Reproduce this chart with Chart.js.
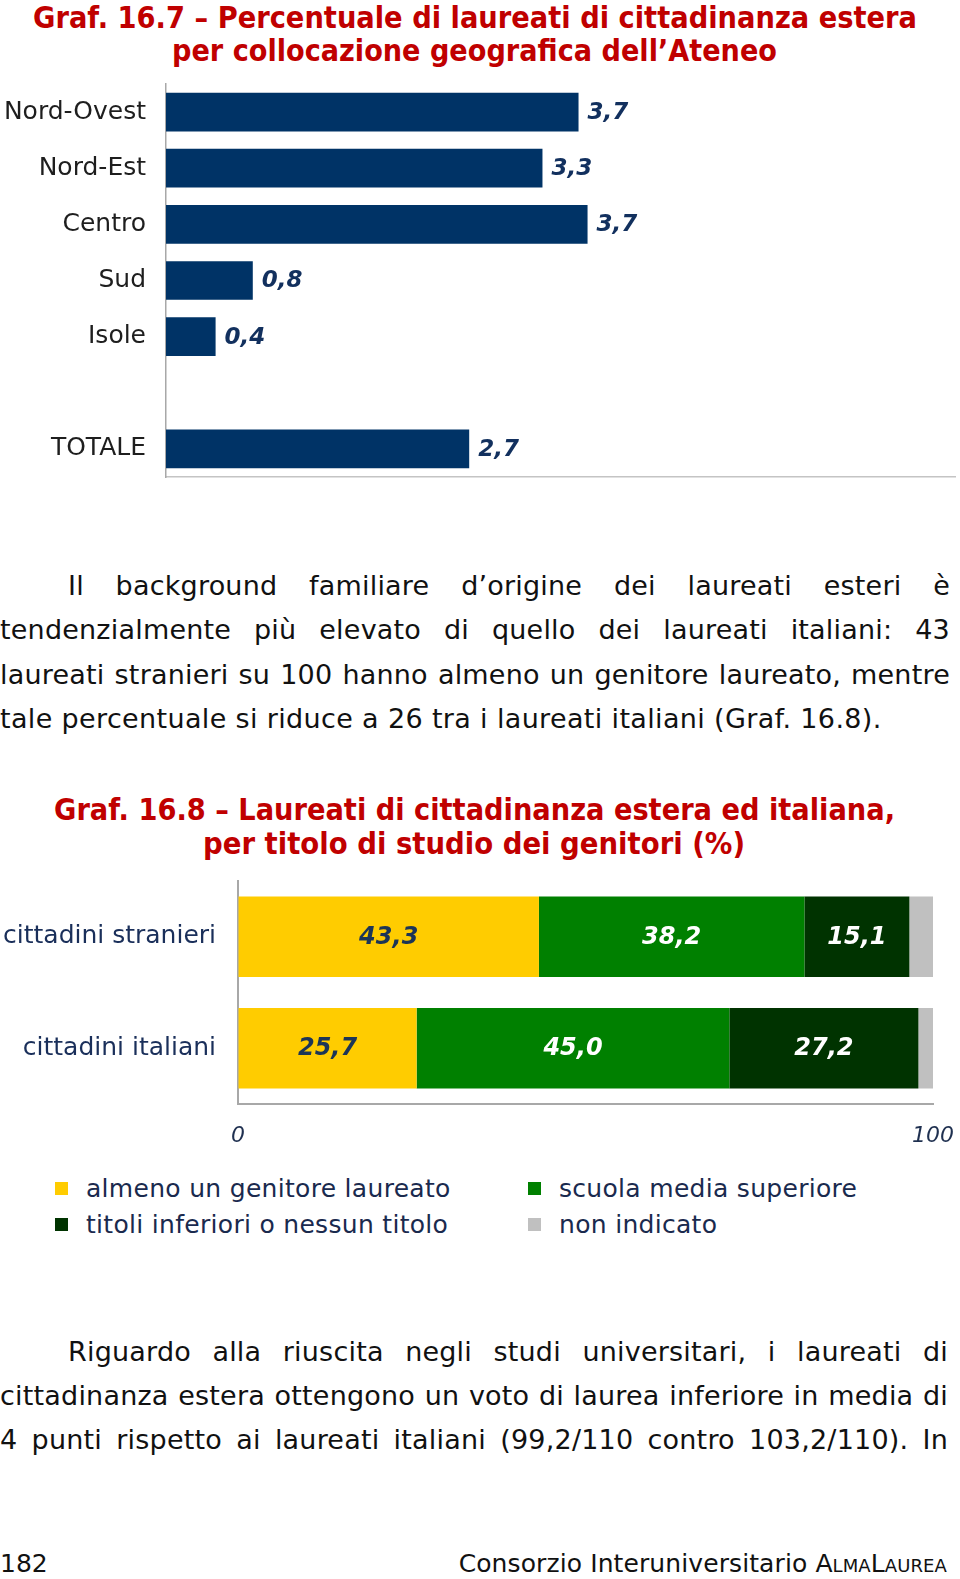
<!DOCTYPE html>
<html lang="it">
<head>
<meta charset="utf-8">
<script src="https://cdn.jsdelivr.net/npm/chart.js@4.4.1/dist/chart.umd.min.js"></script>
<style>
  html, body { margin:0; padding:0; background:#fff; }
  body { width:960px; height:1579px; position:relative; overflow:hidden; font-family:"DejaVu Sans", Verdana, sans-serif; }
  .abs { position:absolute; white-space:nowrap; }
  .title { position:absolute; white-space:nowrap; font-weight:bold; color:#c00000; font-size:31px; transform-origin:0 50%; line-height:36px; height:36px; }
  .line { position:absolute; left:0; font-size:27px; line-height:44px; height:44px; color:#111; white-space:nowrap; letter-spacing:0.35px; }
  .just { text-align:justify; text-align-last:justify; white-space:normal; letter-spacing:0.2px; }
  canvas { position:absolute; left:0; }
  .leg { position:absolute; font-size:25px; color:#1a2a4e; line-height:30px; white-space:nowrap; letter-spacing:0.3px; }
  .sq { position:absolute; width:13px; height:13px; }
</style>
</head>
<body>

<div class="title" data-cx="475" data-cy="17" data-w="884">Graf. 16.7 – Percentuale di laureati di cittadinanza estera</div>
<div class="title" data-cx="474" data-cy="50" data-w="605">per collocazione geografica dell’Ateneo</div>

<canvas id="c1" width="960" height="440" style="top:60px;"></canvas>

<div class="line just" style="top:564px; left:68px; width:882px;">Il background familiare d’origine dei laureati esteri è</div>
<div class="line just" style="top:608px; width:950px;">tendenzialmente più elevato di quello dei laureati italiani: 43</div>
<div class="line just" style="top:653px; width:950px;">laureati stranieri su 100 hanno almeno un genitore laureato, mentre</div>
<div class="line" style="top:697px;">tale percentuale si riduce a 26 tra i laureati italiani (Graf. 16.8).</div>

<div class="title" data-cx="474" data-cy="809" data-w="841">Graf. 16.8 – Laureati di cittadinanza estera ed italiana,</div>
<div class="title" data-cx="474" data-cy="843" data-w="542">per titolo di studio dei genitori (%)</div>

<canvas id="c2" width="960" height="290" style="top:860px;"></canvas>

<div id="legend"></div>

<div class="line just" style="top:1330px; left:68px; width:880px;">Riguardo alla riuscita negli studi universitari, i laureati di</div>
<div class="line just" style="top:1374px; width:948px;">cittadinanza estera ottengono un voto di laurea inferiore in media di</div>
<div class="line just" style="top:1418px; width:948px;">4 punti rispetto ai laureati italiani (99,2/110 contro 103,2/110). In</div>

<div class="abs" style="left:0; top:1549px; font-size:25px; line-height:30px; color:#111;">182</div>
<div class="abs" style="right:13px; top:1549px; font-size:25px; line-height:30px; color:#111; letter-spacing:0.1px;">Consorzio Interuniversitario <span style="font-variant:small-caps;">AlmaLaurea</span></div>

<script>
// ---------- DATA ----------
const regions = ['Nord-Ovest', 'Nord-Est', 'Centro', 'Sud', 'Isole', '', 'TOTALE'];
const regionValues = [3.66, 3.34, 3.74, 0.77, 0.44, null, 2.69];

const groups = ['cittadini stranieri', 'cittadini italiani'];
const seriesNames = ['almeno un genitore laureato', 'scuola media superiore', 'titoli inferiori o nessun titolo', 'non indicato'];
const genitoreLaureato = [43.3, 25.7];
const mediaSuperiore = [38.2, 45.0];
const titoliInferiori = [15.1, 27.2];
const nonIndicato = [3.4, 2.1];
const axisTicks = [0, 100];

// ---------- TITLES fit ----------
document.querySelectorAll('.title').forEach(el => {
  const w = el.getBoundingClientRect().width;
  const target = +el.dataset.w;
  el.style.transform = 'scaleX(' + (target / w) + ')';
  el.style.left = (+el.dataset.cx - target / 2) + 'px';
  el.style.top = (+el.dataset.cy - 18) + 'px';
});

const fmt = v => v.toFixed(1).replace('.', ',');
const hiddenGrid = (len) => ({ display: true, drawOnChartArea: false, drawTicks: true, tickLength: len, color: 'rgba(0,0,0,0)' });

// ---------- CHART 1 ----------
const endLabels = {
  id: 'endLabels',
  afterDatasetsDraw(chart) {
    const ctx = chart.ctx;
    ctx.save();
    ctx.font = 'italic bold 23px "DejaVu Sans"';
    ctx.fillStyle = '#12305e';
    ctx.textAlign = 'left';
    ctx.textBaseline = 'middle';
    chart.getDatasetMeta(0).data.forEach((bar, i) => {
      const v = chart.data.datasets[0].data[i];
      if (v == null) return;
      ctx.fillText(fmt(v), bar.x + 9, bar.y + 1);
    });
    ctx.restore();
  }
};

new Chart(document.getElementById('c1'), {
  type: 'bar',
  data: {
    labels: regions,
    datasets: [{ data: regionValues, backgroundColor: '#003366', barPercentage: 0.69, categoryPercentage: 1 }]
  },
  options: {
    indexAxis: 'y',
    responsive: false,
    animation: false,
    layout: { padding: { top: 24, right: 5, bottom: 23, left: 0 } },
    plugins: { legend: { display: false }, tooltip: { enabled: false } },
    scales: {
      x: {
        min: 0, max: 7,
        grid: { display: false, drawTicks: false },
        ticks: { display: false },
        border: { color: '#c4c4c4', width: 1.5 },
        afterFit(s) { s.height = 0; }
      },
      y: {
        grid: hiddenGrid(20),
        ticks: { color: '#1e1e1e', font: { family: 'DejaVu Sans', size: 25 }, padding: 0, autoSkip: false },
        border: { color: '#a8a8a8', width: 1.5 },
        afterFit(s) { s.width = 166; }
      }
    }
  },
  plugins: [endLabels]
});

// ---------- CHART 2 ----------
const colors = ['#ffcc00', '#008000', '#003300', '#c0c0c0'];
const series = [genitoreLaureato, mediaSuperiore, titoliInferiori, nonIndicato];

const centerLabels = {
  id: 'centerLabels',
  afterDatasetsDraw(chart) {
    const ctx = chart.ctx;
    ctx.save();
    ctx.font = 'italic bold 24px "DejaVu Sans"';
    ctx.textAlign = 'center';
    ctx.textBaseline = 'middle';
    chart.data.datasets.forEach((ds, di) => {
      if (di === 3) return;
      ctx.fillStyle = di === 0 ? '#1c3557' : '#ffffff';
      chart.getDatasetMeta(di).data.forEach((bar, i) => {
        ctx.fillText(fmt(ds.data[i]), (bar.x + bar.base) / 2, bar.y + 1);
      });
    });
    ctx.restore();
  }
};

new Chart(document.getElementById('c2'), {
  type: 'bar',
  data: {
    labels: groups,
    datasets: series.map((d, i) => ({
      label: seriesNames[i], data: d, backgroundColor: colors[i],
      barPercentage: 0.72, categoryPercentage: 1
    }))
  },
  options: {
    indexAxis: 'y',
    responsive: false,
    animation: false,
    layout: { padding: { top: 21, right: 27, bottom: 0, left: 0 } },
    plugins: { legend: { display: false }, tooltip: { enabled: false } },
    scales: {
      x: {
        stacked: true, min: axisTicks[0], max: axisTicks[1],
        grid: hiddenGrid(19),
        afterBuildTicks(s) { s.ticks = axisTicks.map(v => ({ value: v })); },
        ticks: { color: '#1f3050', font: { family: 'DejaVu Sans', size: 22, style: 'italic' }, padding: 0, maxRotation: 0 },
        border: { color: '#a8a8a8', width: 2 },
        afterFit(s) { s.height = 46; }
      },
      y: {
        stacked: true,
        grid: hiddenGrid(22),
        ticks: { color: '#1a2f5a', font: { family: 'DejaVu Sans', size: 25 }, padding: 0 },
        border: { color: '#a8a8a8', width: 2 },
        afterFit(s) { s.width = 238; }
      }
    }
  },
  plugins: [centerLabels]
});

// ---------- LEGEND ----------
const legend = document.getElementById('legend');
const legPos = [[55, 1189], [528, 1189], [55, 1225], [528, 1225]];
seriesNames.forEach((name, i) => {
  const [x, y] = legPos[i];
  const sq = document.createElement('div');
  sq.className = 'sq';
  sq.style.left = x + 'px';
  sq.style.top = (y - 7) + 'px';
  sq.style.background = colors[i];
  legend.appendChild(sq);
  const t = document.createElement('div');
  t.className = 'leg';
  t.textContent = name;
  t.style.left = (x + 31) + 'px';
  t.style.top = (y - 15) + 'px';
  legend.appendChild(t);
});
</script>
</body>
</html>
